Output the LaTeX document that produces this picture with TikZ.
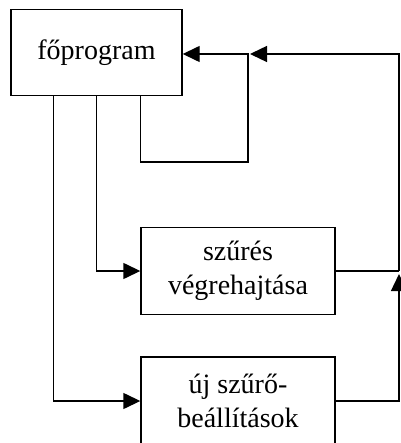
\documentclass[tikz,border=0pt]{standalone}
\usepackage{fontspec}
\setmainfont{Liberation Serif}
\usetikzlibrary{arrows.meta}
\begin{document}
\begin{tikzpicture}[x=1pt,y=-1pt,
  box/.style={draw, line width=1.4pt, minimum width=194pt, minimum height=87pt,
    inner sep=0pt, align=center, font=\fontsize{28}{34}\selectfont},
  wire/.style={line width=1.4pt},
  flow/.style={wire, -{Triangle[length=17pt,width=16pt]}}]
\useasboundingbox (0,0) rectangle (400,443);

% program blocks
\node[box, minimum width=171pt, minimum height=86pt] (main) at (96.5,52.5) {főprogram};
\node[box] (filt) at (238,271) {szűrés\\végrehajtása};
\node[box, minimum height=88pt] (newf) at (238,401) {új szűrő-\\beállítások};

% junction points of the return lines
\coordinate (j1) at (248,54);
\coordinate (lp) at (248,162);
\coordinate (rt) at (399,54);
\coordinate (rm) at (399,271);
\coordinate (rb) at (399,401);

% calls from the main program
\draw[flow] ([xshift=43pt]main.south west) |- (newf.west);
\draw[flow] ([xshift=86pt]main.south west) |- (filt.west);
\draw[flow] ([xshift=130pt]main.south west) |- (lp) -- (j1) -- (main.east |- j1);

% returns to the main program
\draw[wire] (filt.east) -- (rm);
\draw[flow] (newf.east) -- (rb) -- ([yshift=-3pt]rm);
\draw[flow] (rm) -- (rt) -- ([xshift=2pt]j1);
\end{tikzpicture}
\end{document}
